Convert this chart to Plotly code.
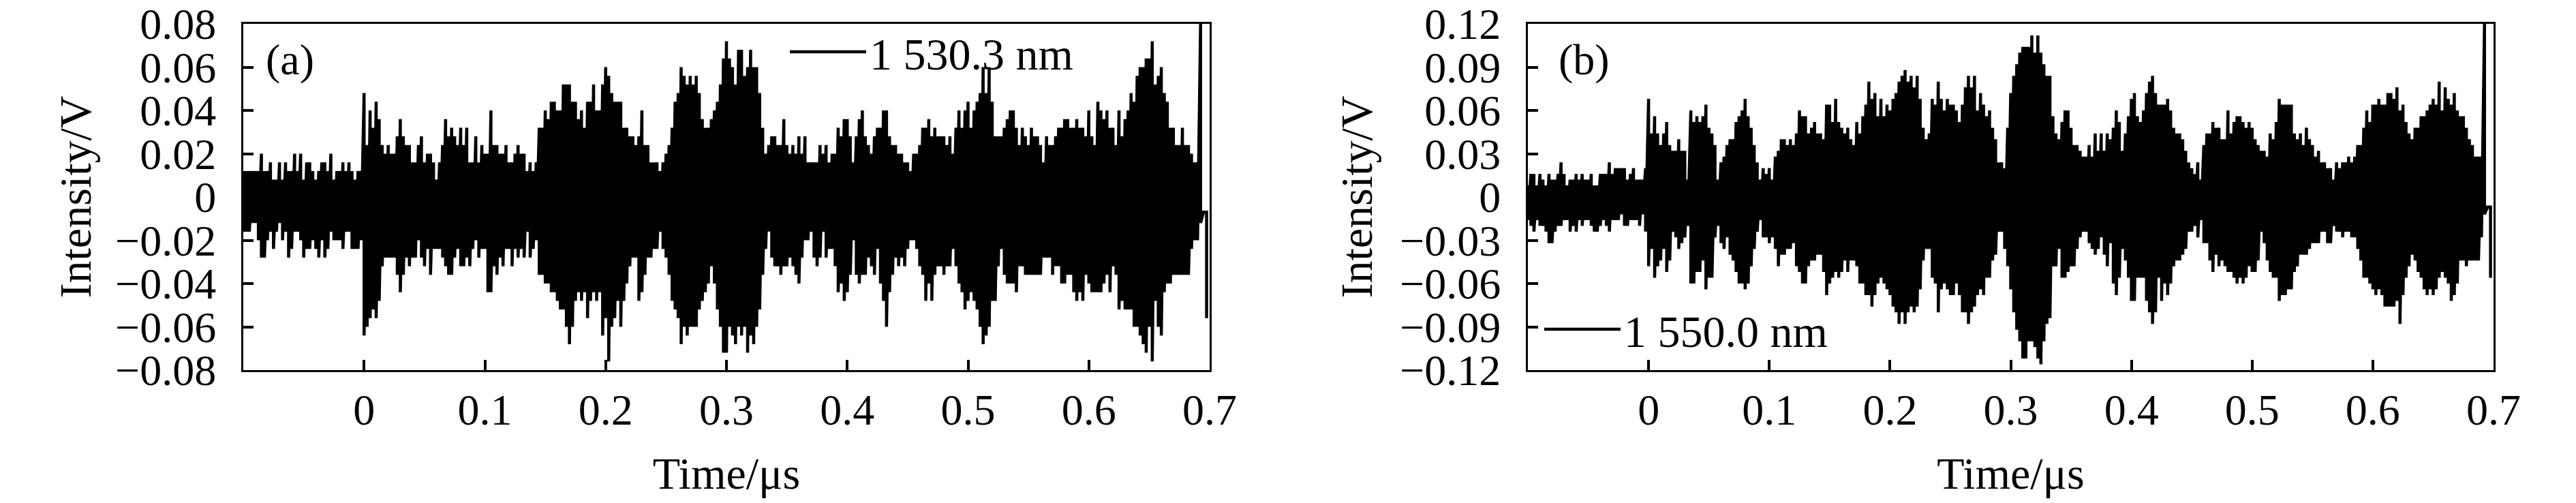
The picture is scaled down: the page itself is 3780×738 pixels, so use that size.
"""
Two photodetector time traces, 1 530.3 nm and 1 550.0 nm
"""
import numpy as np
import plotly.graph_objects as go

# Sample times of the envelope readings, microseconds
time_us = [round(-0.1 + i * 0.0025, 4) for i in range(320)]

# Envelope of the (a) trace, mV
upper_a = [
    12, 12, 12, 12, 12, 12, 20, 12, 12, 16, 8, 8, 16, 8, 16, 12, 12, 20, 12, 20,
    8, 16, 16, 12, 8, 12, 16, 16, 12, 20, 8, 12, 12, 16, 12, 16, 12, 8, 12, 12,
    48, 24, 40, 32, 44, 36, 24, 20, 24, 20, 20, 28, 36, 28, 24, 24, 16, 16, 24, 28,
    16, 20, 20, 16, 8, 16, 24, 36, 28, 32, 28, 24, 32, 24, 32, 16, 16, 28, 16, 24,
    20, 20, 40, 24, 24, 20, 20, 24, 16, 16, 20, 24, 20, 20, 12, 16, 12, 16, 32, 32,
    40, 36, 44, 44, 40, 40, 52, 52, 52, 44, 44, 36, 40, 32, 44, 44, 52, 40, 40, 52,
    60, 56, 48, 44, 44, 44, 32, 32, 28, 28, 24, 28, 40, 24, 24, 16, 16, 16, 12, 16,
    20, 24, 32, 44, 48, 60, 56, 52, 56, 52, 56, 48, 36, 32, 32, 36, 40, 44, 52, 64,
    72, 64, 60, 52, 68, 68, 56, 60, 68, 60, 60, 48, 32, 20, 24, 28, 28, 24, 24, 36,
    24, 20, 24, 20, 28, 20, 28, 16, 16, 16, 16, 24, 20, 24, 16, 20, 20, 32, 28, 36,
    36, 28, 16, 28, 36, 40, 28, 24, 20, 28, 32, 32, 40, 40, 28, 24, 24, 20, 20, 16,
    16, 12, 20, 20, 24, 32, 32, 36, 28, 32, 28, 28, 28, 24, 28, 20, 32, 40, 32, 40,
    44, 32, 40, 44, 48, 60, 48, 60, 44, 28, 28, 28, 32, 36, 40, 40, 32, 24, 32, 28,
    24, 32, 28, 28, 24, 16, 28, 24, 24, 28, 32, 32, 36, 36, 32, 32, 36, 32, 32, 28,
    40, 28, 24, 44, 40, 36, 40, 32, 32, 24, 40, 28, 36, 40, 48, 44, 56, 60, 60, 64,
    64, 72, 52, 56, 60, 48, 44, 32, 32, 24, 24, 32, 24, 24, 20, 16, 16, 80, -7, -7,
]
lower_a = [
    -16, -16, -16, -12, -12, -20, -28, -28, -20, -16, -24, -16, -12, -20, -16, -28, -24, -16, -16, -20,
    -28, -24, -24, -20, -24, -28, -20, -28, -24, -16, -20, -20, -20, -24, -16, -16, -24, -24, -24, -20,
    -64, -60, -56, -52, -56, -48, -32, -28, -28, -28, -28, -36, -44, -36, -28, -32, -28, -28, -20, -28,
    -32, -24, -36, -24, -24, -24, -28, -32, -36, -36, -28, -24, -32, -32, -28, -32, -24, -20, -28, -24,
    -24, -44, -44, -32, -36, -28, -32, -24, -24, -32, -24, -28, -24, -28, -16, -28, -24, -20, -36, -36,
    -40, -40, -44, -44, -48, -52, -52, -60, -68, -60, -48, -44, -48, -44, -56, -48, -44, -48, -44, -64,
    -56, -76, -60, -56, -48, -60, -48, -40, -32, -28, -28, -48, -44, -36, -28, -28, -24, -24, -16, -24,
    -28, -36, -48, -52, -56, -68, -60, -64, -60, -60, -60, -52, -48, -44, -40, -32, -40, -52, -60, -72,
    -72, -60, -64, -68, -60, -64, -60, -72, -64, -68, -60, -52, -36, -24, -16, -28, -32, -32, -36, -32,
    -32, -28, -32, -36, -40, -28, -20, -20, -16, -28, -32, -28, -16, -28, -24, -24, -32, -44, -40, -48,
    -44, -36, -20, -36, -40, -36, -36, -28, -32, -36, -24, -40, -48, -60, -44, -36, -28, -32, -28, -32,
    -24, -20, -20, -24, -32, -36, -48, -40, -48, -36, -32, -32, -36, -32, -32, -24, -32, -40, -44, -52,
    -48, -44, -48, -52, -60, -68, -64, -60, -48, -48, -32, -24, -36, -40, -40, -40, -44, -32, -32, -36,
    -36, -36, -36, -36, -36, -28, -28, -28, -36, -32, -32, -40, -40, -36, -36, -44, -48, -44, -48, -36,
    -40, -44, -44, -44, -44, -40, -36, -44, -32, -36, -52, -48, -52, -52, -52, -60, -60, -64, -68, -72,
    -60, -76, -48, -60, -64, -44, -40, -40, -36, -36, -36, -36, -36, -36, -24, -20, -20, -12, -7, -56,
]

# Envelope of the (b) trace, mV
upper_b = [
    8, 16, 16, 8, 16, 12, 8, 16, 12, 12, 16, 24, 16, 8, 12, 12, 16, 12, 16, 12,
    12, 16, 8, 8, 16, 16, 16, 24, 16, 20, 20, 20, 20, 12, 16, 20, 12, 12, 12, 20,
    68, 44, 56, 44, 36, 44, 52, 36, 32, 32, 40, 32, 32, 12, 60, 52, 56, 52, 56, 64,
    48, 44, 36, 12, 24, 28, 36, 40, 40, 52, 56, 60, 68, 56, 48, 36, 24, 12, 20, 16,
    20, 12, 28, 32, 40, 40, 36, 40, 36, 44, 60, 56, 56, 44, 48, 52, 44, 44, 40, 64,
    64, 52, 68, 52, 48, 44, 48, 40, 36, 52, 44, 56, 64, 80, 68, 72, 56, 68, 56, 64,
    60, 68, 72, 80, 84, 88, 80, 84, 76, 84, 68, 48, 40, 44, 68, 64, 80, 68, 60, 68,
    64, 64, 60, 52, 64, 76, 84, 76, 84, 60, 72, 64, 56, 60, 48, 40, 24, 24, 20, 48,
    72, 84, 92, 100, 104, 104, 104, 112, 100, 112, 100, 92, 84, 84, 56, 44, 40, 52, 60, 60,
    48, 36, 36, 32, 28, 28, 36, 28, 44, 32, 44, 32, 44, 40, 48, 60, 52, 32, 44, 56,
    68, 72, 56, 52, 60, 72, 80, 84, 72, 64, 64, 64, 68, 60, 48, 44, 44, 40, 32, 24,
    20, 16, 24, 12, 36, 44, 44, 52, 48, 48, 40, 40, 60, 44, 52, 56, 56, 52, 48, 52,
    48, 40, 36, 32, 32, 28, 44, 40, 52, 68, 64, 64, 64, 64, 44, 40, 44, 36, 48, 40,
    36, 28, 32, 24, 24, 20, 20, 12, 24, 20, 24, 24, 28, 24, 28, 36, 36, 48, 60, 52,
    64, 64, 68, 64, 64, 72, 72, 68, 76, 60, 64, 52, 44, 40, 48, 48, 56, 56, 60, 64,
    68, 64, 80, 60, 76, 68, 64, 72, 60, 56, 56, 48, 40, 36, 28, 28, 28, 120, -7, -7,
]
lower_b = [
    -16, -20, -24, -16, -20, -20, -24, -32, -32, -24, -20, -20, -16, -16, -24, -20, -24, -16, -20, -16,
    -16, -20, -24, -24, -20, -16, -20, -24, -16, -16, -16, -12, -20, -20, -16, -16, -16, -20, -12, -24,
    -48, -36, -56, -48, -44, -36, -52, -44, -24, -28, -36, -32, -28, -20, -60, -60, -52, -52, -44, -64,
    -56, -56, -28, -20, -32, -36, -28, -40, -44, -52, -60, -60, -64, -60, -48, -36, -24, -16, -28, -28,
    -32, -28, -36, -48, -40, -40, -36, -36, -32, -48, -52, -60, -60, -48, -44, -44, -40, -40, -52, -68,
    -60, -56, -52, -56, -52, -44, -52, -44, -44, -48, -60, -60, -68, -68, -76, -68, -60, -56, -60, -64,
    -68, -76, -80, -88, -80, -88, -80, -76, -80, -76, -64, -44, -36, -36, -56, -60, -80, -64, -60, -64,
    -68, -68, -60, -68, -80, -80, -88, -80, -76, -68, -64, -68, -56, -56, -44, -40, -24, -24, -36, -48,
    -64, -80, -92, -100, -112, -112, -100, -100, -104, -112, -116, -100, -88, -84, -48, -48, -36, -56, -56, -52,
    -48, -48, -36, -28, -24, -24, -32, -36, -40, -36, -28, -40, -48, -32, -60, -68, -56, -36, -44, -56,
    -72, -72, -56, -56, -56, -72, -80, -88, -80, -56, -72, -60, -68, -60, -48, -44, -44, -40, -36, -24,
    -24, -20, -28, -16, -32, -32, -44, -52, -40, -48, -44, -48, -52, -52, -56, -60, -56, -60, -56, -48,
    -52, -52, -44, -24, -32, -44, -52, -56, -56, -72, -68, -68, -64, -64, -52, -48, -40, -40, -40, -36,
    -32, -32, -32, -24, -24, -32, -32, -20, -24, -24, -28, -24, -24, -28, -28, -36, -44, -56, -56, -60,
    -64, -68, -64, -68, -76, -76, -76, -76, -72, -88, -68, -56, -48, -40, -44, -52, -56, -64, -68, -64,
    -68, -64, -56, -52, -56, -60, -72, -68, -60, -44, -44, -48, -44, -44, -44, -44, -28, -12, -7, -56,
]

x_ticks = [0, 0.1, 0.2, 0.3, 0.4, 0.5, 0.6, 0.7]
x_labels = ['0', '0.1', '0.2', '0.3', '0.4', '0.5', '0.6', '0.7']
y_ticks_a = [-0.08, -0.06, -0.04, -0.02, 0, 0.02, 0.04, 0.06, 0.08]
y_labels_a = ['−0.08', '−0.06', '−0.04', '−0.02', '0', '0.02', '0.04', '0.06', '0.08']
y_ticks_b = [-0.12, -0.09, -0.06, -0.03, 0, 0.03, 0.06, 0.09, 0.12]
y_labels_b = ['−0.12', '−0.09', '−0.06', '−0.03', '0', '0.03', '0.06', '0.09', '0.12']

W, H = 3780, 738
FONT = 'Liberation Serif'
SIZE = 64


def zigzag(upper, lower):
    """Return x and y of a line swinging between both envelopes"""
    y = np.empty(2 * len(upper))
    y[0::2] = np.array(upper) / 1000
    y[1::2] = np.array(lower) / 1000
    return np.repeat(time_us, 2).tolist(), y.tolist()


def axis(domain, anchor, **kw):
    return dict(domain=domain, anchor=anchor, automargin=False, showline=True, mirror=True,
                linecolor='black', linewidth=3, showgrid=False, zeroline=False,
                ticks='inside', ticklen=15, tickwidth=3.5, tickcolor='black',
                tickfont=dict(family=FONT, size=SIZE, color='black'),
                title_font=dict(family=FONT, size=66, color='black'), **kw)


fig = go.Figure()

x_a, y_a = zigzag(upper_a, lower_a)
fig.add_trace(go.Scatter(x=x_a, y=y_a, mode='lines', name='1 530.3 nm',
                         line=dict(color='black', width=4.5, simplify=False),
                         xaxis='x', yaxis='y', legend='legend'))
x_b, y_b = zigzag(upper_b, lower_b)
fig.add_trace(go.Scatter(x=x_b, y=y_b, mode='lines', name='1 550.0 nm',
                         line=dict(color='black', width=4.5, simplify=False),
                         xaxis='x2', yaxis='y2', legend='legend2'))

y_dom = [1 - 543 / H, 1 - 35 / H]
legend_style = dict(xanchor='left', yanchor='middle', bgcolor='rgba(0,0,0,0)',
                    itemwidth=112, font=dict(family=FONT, size=66, color='black'))
label_style = dict(xref='paper', yref='paper', xanchor='center', yanchor='middle',
                   showarrow=False, font=dict(family=FONT, size=SIZE, color='black'))

fig.update_layout(
    width=W, height=H, margin=dict(l=0, r=0, t=0, b=0),
    paper_bgcolor='white', plot_bgcolor='white', showlegend=True,
    xaxis=axis([357 / W, 1775 / W], 'y', range=[-0.1, 0.7], tickvals=x_ticks,
               ticktext=x_labels, ticklabelstandoff=0,
               title=dict(text='Time/μs', standoff=36)),
    yaxis=axis(y_dom, 'x', range=[-0.08, 0.08], tickvals=y_ticks_a,
               ticktext=y_labels_a, ticklabelstandoff=24,
               title=dict(text='Intensity/V', standoff=15)),
    xaxis2=axis([2242 / W, 3659 / W], 'y2', range=[-0.1, 0.7], tickvals=x_ticks,
                ticktext=x_labels, ticklabelstandoff=0,
                title=dict(text='Time/μs', standoff=36)),
    yaxis2=axis(y_dom, 'x2', range=[-0.12, 0.12], tickvals=y_ticks_b,
                ticktext=y_labels_b, ticklabelstandoff=24,
                title=dict(text='Intensity/V', standoff=20)),
    legend=dict(x=1154 / W, y=1 - 76 / H, **legend_style),
    legend2=dict(x=2261 / W, y=1 - 483 / H, **legend_style),
    annotations=[
        dict(text='(a)', x=425 / W, y=1 - 88 / H, **label_style),
        dict(text='(b)', x=2324 / W, y=1 - 88 / H, **label_style),
    ],
)

fig.write_html("out.html", config=dict(displayModeBar=False),
               post_script="document.body.style.margin='0'")
